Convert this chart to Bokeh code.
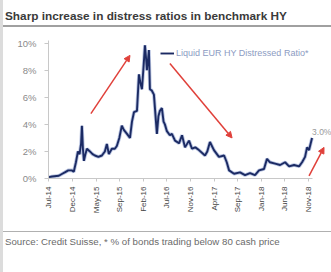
import pandas as pd
from bokeh.plotting import figure
from bokeh.models import (Div, Range1d, FixedTicker, DatetimeTickFormatter, PrintfTickFormatter,
                          Arrow, NormalHead, Label, Legend, LegendItem)
from bokeh.layouts import column
from bokeh.embed import file_html
from bokeh.resources import INLINE

TITLE = "Sharp increase in distress ratios in benchmark HY"
SOURCE = "Source: Credit Suisse, * % of bonds trading below 80 cash price"
SERIES = "Liquid EUR HY Distressed Ratio*"

dates = ["2014-08-01","2014-08-20","2014-09-29","2014-10-20","2014-11-04","2014-11-25","2014-12-16","2014-12-28",
         "2015-01-10","2015-01-22","2015-02-01","2015-02-10","2015-02-15","2015-02-21","2015-02-27","2015-03-08",
         "2015-03-17","2015-04-04","2015-04-20","2015-05-04","2015-05-25","2015-06-15","2015-07-03","2015-07-15",
         "2015-07-27","2015-08-14","2015-09-01","2015-09-13","2015-09-28","2015-10-13","2015-10-25","2015-11-13",
         "2015-12-01","2015-12-13","2015-12-25","2016-01-12","2016-01-24","2016-02-03","2016-02-11","2016-02-22",
         "2016-02-29","2016-03-06","2016-03-12","2016-03-24","2016-03-30","2016-04-10","2016-04-23","2016-05-11",
         "2016-05-20","2016-05-29","2016-06-10","2016-06-20","2016-06-28","2016-07-10","2016-07-28","2016-08-09",
         "2016-08-28","2016-09-21","2016-10-09","2016-10-27","2016-11-20","2016-12-08","2016-12-28","2017-01-19",
         "2017-02-24","2017-03-10","2017-03-26","2017-04-19","2017-05-19","2017-06-19","2017-07-05","2017-07-19",
         "2017-08-18","2017-09-23","2017-10-23","2017-11-22","2017-12-22","2018-01-15","2018-02-14","2018-03-04",
         "2018-03-22","2018-04-22","2018-05-22","2018-06-21","2018-07-15","2018-08-14","2018-09-13","2018-10-01",
         "2018-10-19","2018-10-31","2018-11-12","2018-11-30"]

ratio = [0.1, 0.15, 0.2, 0.35, 0.45, 0.6, 0.6, 0.5,
         1.2, 2.0, 1.8, 2.6, 3.9, 2.2, 1.3, 1.8,
         2.2, 2.0, 1.8, 1.7, 1.6, 1.7, 2.0, 2.55,
         1.8, 2.2, 2.2, 2.4, 3.0, 3.9, 3.6, 3.3,
         3.0, 4.2, 4.9, 5.0, 7.7, 7.0, 6.6, 8.5,
         9.85, 9.0, 8.0, 9.5, 6.6, 6.5, 6.2, 3.3,
         4.6, 5.0, 5.2, 4.2, 4.0, 3.5, 3.2, 3.3,
         2.8, 2.6, 3.2, 2.3, 2.8, 2.2, 2.3, 2.1,
         1.7, 2.0, 2.7, 2.1, 1.6, 1.7, 1.2, 0.6,
         0.35, 0.45, 0.25, 0.4, 0.25, 0.6, 0.7, 1.45,
         1.2, 1.1, 1.0, 1.2, 0.9, 1.0, 0.9, 1.2,
         1.6, 2.3, 2.1, 3.0]

tick_dates = ["2014-07-31","2014-12-20","2015-05-11","2015-09-30","2016-02-19","2016-07-10",
              "2016-11-29","2017-04-20","2017-09-09","2018-01-29","2018-06-20","2018-11-09"]
y_ticks = [0, 2, 4, 6, 8, 10]

x_start, x_end = "2014-07-29", "2019-03-27"
axis_end = "2018-12-05"
y_start, y_end = 0, 10.2

last_label = "3.0%"

# arrows (start date, start %, end date, end %)
arrows = [("2015-04-10", 4.8, "2015-12-01", 9.1),
          ("2016-07-28", 8.5, "2017-08-06", 3.0),
          ("2018-11-12", 0.2, "2019-02-10", 2.3)]

assert len(dates) == len(ratio)

def ms(d):
    return pd.Timestamp(d).value / 1e6

FONT = "Liberation Sans"
x = pd.to_datetime(dates)

p = figure(width=328, height=204, output_backend="svg", toolbar_location=None,
           x_axis_type="datetime",
           x_range=Range1d(ms(x_start), ms(x_end)), y_range=Range1d(y_start, y_end),
           min_border_left=45, min_border_right=0, min_border_top=13, min_border_bottom=53)
p.outline_line_color = None
p.grid.visible = False
p.background_fill_color = "white"
p.border_fill_color = "white"

halo = p.line(x, ratio, line_color="#7f93c8", line_width=3.6, line_alpha=0.55)
main = p.line(x, ratio, line_color="#1b2a63", line_width=1.9)

for a in arrows:
    p.add_layout(Arrow(x_start=ms(a[0]), y_start=a[1], x_end=ms(a[2]), y_end=a[3],
                       line_color="#e0403a", line_width=1.5,
                       end=NormalHead(size=6, fill_color="#e0403a", line_color="#e0403a")))

p.add_layout(Label(x=ms(dates[-1]), y=ratio[-1], text=last_label, x_offset=0, y_offset=1,
                   text_font=FONT, text_font_size="8.5px", text_color="#9a9a9a",
                   text_baseline="bottom", text_align="left"))

legend = Legend(items=[LegendItem(label=SERIES, renderers=[main])], location=(112, 120),
                border_line_color=None, background_fill_alpha=0, padding=0, margin=0,
                glyph_width=14, glyph_height=10, label_height=10, label_standoff=2,
                label_text_font=FONT, label_text_font_size="9px", label_text_color="#8c9bc2")
p.add_layout(legend)

xa = p.xaxis[0]
xa.ticker = FixedTicker(ticks=[ms(d) for d in tick_dates])
fmt = "%b-%y"
xa.formatter = DatetimeTickFormatter(milliseconds=fmt, seconds=fmt, minsec=fmt, minutes=fmt, hourmin=fmt,
                                     hours=fmt, days=fmt, months=fmt, years=fmt)
xa.bounds = (ms(x_start), ms(axis_end))
xa.major_label_orientation = 3.14159265 / 2
xa.axis_line_color = "#c8c8c8"
xa.major_tick_line_color = "#c8c8c8"
xa.major_tick_out = 3
xa.major_tick_in = 0
xa.minor_tick_line_color = None
xa.major_label_standoff = 5
xa.major_label_text_font = FONT
xa.major_label_text_font_size = "8px"
xa.major_label_text_color = "#444444"

ya = p.yaxis[0]
ya.ticker = FixedTicker(ticks=y_ticks)
ya.formatter = PrintfTickFormatter(format="%d%%")
ya.axis_line_color = "#c8c8c8"
ya.major_tick_line_color = "#c8c8c8"
ya.major_tick_out = 4
ya.major_tick_in = 0
ya.minor_tick_line_color = None
ya.major_label_standoff = 8
ya.major_label_text_font = FONT
ya.major_label_text_font_size = "9.5px"
ya.major_label_text_color = "#8a8a8a"

title_div = Div(text=TITLE, width=328, height=27, margin=0,
                styles={"font-family": FONT, "font-size": "11.8px", "font-weight": "bold",
                        "color": "#3a3a3a", "border-bottom": "2px solid #a0a0a0",
                        "padding-top": "9px", "padding-left": "2px",
                        "line-height": "14px", "white-space": "nowrap", "box-sizing": "border-box",
                        "overflow": "hidden"})
src_div = Div(text=SOURCE, width=328, height=41, margin=0,
              styles={"font-family": FONT, "font-size": "9.7px", "color": "#6a6a6a",
                      "border-top": "1px solid #b0b0b0", "padding-top": "4px", "padding-left": "2px",
                      "line-height": "12px", "white-space": "nowrap", "box-sizing": "border-box"})

layout = column(title_div, p, src_div, spacing=0,
                styles={"border-left": "3px solid #dcdcdc"})

open("out.html", "w").write(file_html(layout, INLINE))
